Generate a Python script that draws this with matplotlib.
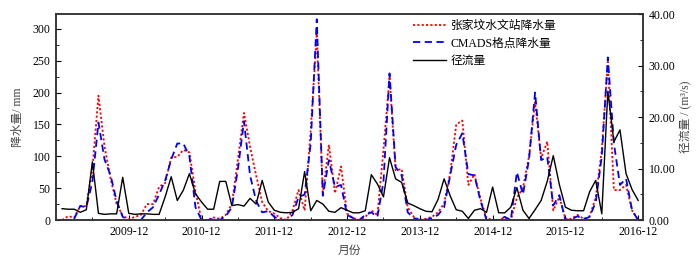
import matplotlib
matplotlib.use("Agg")
import matplotlib.pyplot as plt
import numpy as np

plt.rcParams['font.family'] = ['Liberation Serif', 'Noto Sans CJK SC']

# monthly values 2009-01 .. 2016-12
station_rain = [0, 6, 4, 22, 22, 80, 195, 115, 65, 25, 7, 1,
                5, 8, 25, 25, 52, 58, 98, 99, 110, 106, 45, 0,
                0, 4, 2, 8, 25, 95, 168, 115, 70, 28, 14, 10,
                3, 0, 15, 47, 15, 140, 292, 40, 118, 42, 84, 10,
                3, 0, 5, 15, 8, 110, 225, 78, 80, 20, 5, 0,
                2, 5, 12, 26, 73, 150, 156, 55, 72, 33, 3, 0,
                0, 4, 0, 35, 50, 100, 185, 97, 123, 15, 36, 2,
                2, 8, 2, 6, 35, 110, 248, 47, 47, 55, 15, 0]
cmads_rain = [0, 0, 2, 22, 20, 60, 153, 95, 70, 30, 5, 0,
              0, 0, 12, 20, 40, 62, 95, 120, 120, 100, 20, 0,
              0, 2, 0, 6, 20, 80, 155, 70, 30, 12, 14, 5,
              0, 0, 8, 36, 40, 120, 315, 38, 94, 52, 55, 8,
              3, 0, 8, 12, 5, 60, 230, 83, 70, 12, 3, 0,
              0, 3, 8, 20, 70, 118, 136, 72, 70, 30, 0, 0,
              0, 5, 0, 75, 40, 95, 200, 94, 99, 23, 39, 0,
              1, 6, 1, 5, 28, 100, 255, 120, 55, 65, 15, 0]
runoff = [2.2, 2.1, 2.1, 1.5, 2.0, 11.3, 1.3, 1.1, 1.2, 1.2, 8.3, 1.3,
          1.1, 1.2, 1.2, 1.1, 1.1, 4.5, 8.4, 3.8, 5.8, 9.0, 5.1, 3.5,
          2.1, 2.1, 7.5, 7.5, 2.8, 3.0, 2.7, 4.2, 3.1, 7.7, 3.5, 1.9,
          1.5, 1.4, 1.5, 2.2, 9.4, 1.8, 3.8, 3.1, 1.7, 1.5, 2.4, 1.9,
          1.4, 1.4, 1.8, 8.8, 7.0, 4.5, 12.1, 8.0, 7.3, 3.3, 2.8, 2.2,
          1.7, 1.6, 4.0, 8.0, 4.7, 2.0, 1.7, 0.3, 1.9, 2.2, 1.5, 6.4,
          1.4, 1.4, 2.5, 6.3, 1.9, 0.3, 2.0, 3.8, 7.5, 12.5, 6.9, 2.5,
          1.9, 1.8, 1.8, 5.5, 7.7, 1.2, 25.0, 15.2, 17.5, 9.0, 5.9, 3.8]
tick_labels = ['2009-12', '2010-12', '2011-12', '2012-12',
               '2013-12', '2014-12', '2015-12', '2016-12']

months = np.arange(1, len(runoff) + 1)

fig = plt.figure(figsize=(7, 2.61), dpi=100)
ax = fig.add_axes([0.08, 0.157, 0.8386, 0.789])
ax2 = ax.twinx()

l1, = ax.plot(months, station_rain, color='#ff0000', linestyle=(0, (1.2, 1.2)), lw=1.3)
l2, = ax.plot(months, cmads_rain, color='#0000ff', linestyle=(0, (4, 2.5)), lw=1.3)
l3, = ax2.plot(months, runoff, color='black', lw=1.0)

ax.set_xlim(0, 96.8)
ax.set_ylim(0, 323)
ax2.set_ylim(0, 40)

ax.set_xticks(np.arange(12, 97, 12))
ax.set_xticklabels(tick_labels)
ax.set_xticks(np.arange(6, 97, 12), minor=True)
ax.set_yticks(np.arange(0, 301, 50))
ax.set_yticks(np.arange(25, 323, 50), minor=True)
ax2.set_yticks(np.arange(0, 41, 10))
ax2.set_yticks(np.arange(5, 40, 10), minor=True)
ax2.set_yticklabels(['%.2f' % v for v in np.arange(0, 41, 10)])

for a in (ax, ax2):
    a.tick_params(which='both', direction='in', labelsize=8.5, pad=4)
    a.tick_params(which='major', length=3.5)
    a.tick_params(which='minor', length=2)
    for s in a.spines.values():
        s.set_linewidth(1.1)
        s.set_color('#333333')
ax.tick_params(axis='y', right=False)
ax.tick_params(axis='x', top=False)

ax.set_xlabel('月份', fontsize=8.5, color='#444444', labelpad=5)
ax.set_ylabel('降水量/ mm', fontsize=8.5, color='#444444', labelpad=6)
ax2.set_ylabel('径流量 / (m³/s)', fontsize=8.5, color='#444444', labelpad=3)

ax2.legend([l1, l2, l3], ['张家坟水文站降水量', 'CMADS格点降水量', '径流量'],
           loc='upper left', bbox_to_anchor=(0.578, 0.955), bbox_transform=fig.transFigure,
           frameon=False, fontsize=8.5, handlelength=2.8, handletextpad=0.4,
           labelspacing=0.45, borderpad=0.2)

plt.savefig('out.png', dpi=100)
